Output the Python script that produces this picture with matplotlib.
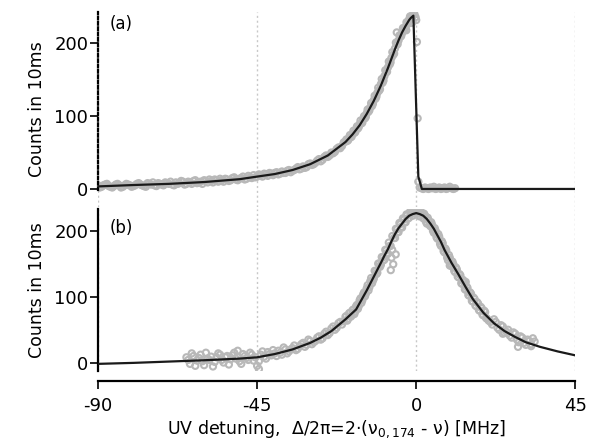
import matplotlib
matplotlib.use("Agg")
import matplotlib.pyplot as plt

plt.rcParams["font.family"] = ["DejaVu Sans"]

# Panel (a): measured counts (two interleaved scans)
top_x = [-90, -89, -88, -87, -86, -85, -84, -83, -82, -81,
         -80, -79, -78, -77, -76, -75, -74, -73, -72, -71,
         -70, -69, -68, -67, -66, -65, -64, -63, -62, -61,
         -60, -59, -58, -57, -56, -55, -54, -53, -52, -51,
         -50, -49, -48, -47, -46, -45, -44, -43, -42, -41,
         -40, -39, -38, -37, -36, -35, -34, -33, -32, -31,
         -30, -29, -28, -27, -26, -25, -24, -23, -22, -21,
         -20, -19.5, -19, -18.5, -18, -17.5, -17, -16.5, -16, -15.5,
         -15, -14.5, -14, -13.5, -13, -12.5, -12, -11.5, -11, -10.5,
         -10, -9.5, -9, -8.5, -8, -7.5, -7, -6.5, -6, -5.5,
         -5, -4.5, -4, -3.5, -3, -2.5, -2, -1.5, -1, -0.5,
         -1.2, -2.8, -0.2, 0, 0.2, 0.4, 0.6, 1, 1.5, 2,
         2.5, 3, 3.5, 4, 4.5, 5, 5.5, 6, 6.5, 7,
         7.5, 8, 8.5, 9, 9.5, 10, 10.5, 11]
top_y = [5, 3, 6, 4, 2, 6, 5, 3, 7, 5,
         4, 7, 6, 4, 8, 6, 5, 8, 6, 9,
         7, 6, 9, 8, 10, 7, 9, 11, 8, 10,
         12, 9, 11, 13, 10, 12, 14, 11, 15, 13,
         14, 17, 14, 16, 19, 17, 19, 21, 18, 21,
         22, 20, 24, 22, 26, 25, 28, 27, 31, 30,
         35, 34, 39, 38, 44, 44, 50, 51, 57, 59,
         65, 66, 70, 71, 76, 77, 82, 83, 89, 90,
         96, 97, 104, 106, 112, 114, 122, 124, 132, 135,
         144, 146, 155, 160, 167, 171, 180, 184, 193, 198,
         204, 209, 214, 220, 223, 229, 233, 236, 238, 240,
         228, 218, 236, 232, 202, 97, 10, 2, 1, 0,
         2, 1, 0, 2, 1, 3, 0, 1, 2, 0,
         1, 2, 0, 1, 3, 1, 0, 1]

top_x2 = [-89.5, -88.5, -87.5, -86.5, -85.5, -84.5, -83.5, -82.5, -81.5, -80.5,
          -79.5, -78.5, -77.5, -76.5, -75.5, -74.5, -73.5, -72.5, -71.5, -70.5,
          -69.5, -68.5, -67.5, -66.5, -65.5, -64.5, -63.5, -62.5, -61.5, -60.5,
          -59.5, -58.5, -57.5, -56.5, -55.5, -54.5, -53.5, -52.5, -51.5, -50.5,
          -49.5, -48.5, -47.5, -46.5, -45.5, -44.5, -43.5, -42.5, -41.5, -40.5,
          -39.5, -38.5, -37.5, -36.5, -35.5, -34.5, -33.5, -32.5, -31.5, -30.5,
          -29.5, -28.5, -27.5, -26.5, -25.5, -24.5, -23.5, -22.5, -21.5, -20.5,
          -19.75, -19.25, -18.75, -18.25, -17.75, -17.25, -16.75, -16.25, -15.75, -15.25,
          -14.75, -14.25, -13.75, -13.25, -12.75, -12.25, -11.75, -11.25, -10.75, -10.25,
          -9.75, -9.25, -8.75, -8.25, -7.75, -7.25, -6.75, -6.25, -5.75, -5.25,
          -4.75, -4.25, -3.75, -3.25, -2.75, -2.25, -1.75, -1.25, -0.75, -5.5]
top_y2 = [2, 5, 7, 3, 4, 7, 2, 5, 6, 3,
          5, 8, 5, 3, 7, 9, 4, 7, 5, 8,
          10, 5, 7, 11, 6, 10, 7, 12, 9, 7,
          11, 13, 9, 12, 14, 10, 13, 12, 16, 12,
          15, 13, 18, 15, 16, 20, 17, 20, 22, 19,
          23, 21, 22, 25, 23, 26, 30, 28, 29, 34,
          33, 36, 41, 40, 46, 46, 49, 55, 56, 64,
          68, 67, 74, 72, 80, 78, 86, 85, 94, 91,
          100, 99, 109, 108, 118, 117, 128, 127, 139, 137,
          151, 149, 163, 161, 175, 174, 188, 186, 201, 199,
          211, 210, 221, 219, 229, 227, 237, 234, 241, 215]

# Panel (a): fit curve
top_fit_x = [-90, -80, -70, -60, -50, -45, -40, -35, -30, -25,
             -20, -18, -16, -14, -12, -10, -9, -8, -7, -6,
             -5, -4, -3, -2, -1.5, -0.8, 0.6, 1.6, 45]
top_fit_y = [3.5, 5.4, 7.0, 9.5, 13.4, 17, 20.5, 26, 34, 46,
             64.5, 75, 87.5, 103, 121, 142, 154, 166, 179, 192,
             204, 215, 224, 232, 235, 238, 17, 0, 0]

# Panel (b): measured counts (two interleaved scans)
bot_x = [-65, -64, -63, -62, -61, -60, -59, -58, -57, -56,
         -55, -54, -53, -52, -51, -50, -49, -48, -47, -46,
         -45, -44, -43, -42, -41, -40, -39, -38, -37, -36,
         -35, -34, -33, -32, -31, -30, -29, -28, -27, -26,
         -25, -24, -23, -22, -21,
         -20, -19.5, -19, -18.5, -18, -17.5, -17, -16.5, -16, -15.5,
         -15, -14.5, -14, -13.5, -13, -12.5, -12, -11.5, -11, -10.5,
         -10, -9.5, -9, -8.5, -8, -7.5, -7, -6.5, -6, -5.5,
         -5, -4.5, -4, -3.5, -3, -2.5, -2, -1.5, -1, -0.5,
         0, 0.5, 1, 1.5, 2, 2.5, 3, 3.5, 4, 4.5,
         5, 5.5, 6, 6.5, 7, 7.5, 8, 8.5, 9, 9.5,
         10, 10.5, 11, 11.5, 12, 12.5, 13, 13.5, 14, 14.5,
         15, 15.5, 16, 16.5, 17, 17.5, 18, 18.5, 19, 19.5,
         20, 21, 22, 23, 24, 25, 26, 27, 28, 29,
         30, 31, 32, 33,
         -7.2, -6.8, -5.8, 9.5, 14, 28.8, 24.5, 32.5, -44.5, -50.5]
bot_y = [8, -2, 10, 3, 12, -4, 6, 9, 1, 14,
         4, 8, -3, 11, 6, 2, 13, 7, 15, 3,
         -5, 12, 9, 16, 11, 14, 18, 12, 20, 17,
         22, 19, 25, 30, 27, 33, 31, 38, 35, 44,
         42, 52, 50, 60, 58,
         70, 64, 75, 70, 80, 74, 86, 82, 95, 91,
         104, 101, 113, 110, 124, 121, 128, 139, 137, 151,
         149, 160, 157, 171, 166, 178, 160, 150, 190, 203,
         199, 211, 206, 218, 214, 225, 221, 229, 224, 231,
         226, 232, 223, 228, 220, 224, 212, 217, 208, 210,
         198, 201, 189, 192, 178, 182, 168, 171, 156, 160,
         147, 150, 138, 142, 130, 133, 120, 123, 111, 114,
         102, 105, 93, 97, 86, 90, 79, 83, 72, 77,
         67, 62, 66, 53, 57, 45, 50, 38, 44, 31,
         38, 27, 33, 37,
         141, 172, 165, 148, 123, 24, 44, 25, -10, 18]

bot_x2 = [-64.5, -63.5, -62.5, -61.5, -60.5, -59.5, -58.5, -57.5, -56.5, -55.5,
          -54.5, -53.5, -52.5, -51.5, -50.5, -49.5, -48.5, -47.5, -46.5, -45.5,
          -44.5, -43.5, -42.5, -41.5, -40.5, -39.5, -38.5, -37.5, -36.5, -35.5,
          -34.5, -33.5, -32.5, -31.5, -30.5, -29.5, -28.5, -27.5, -26.5, -25.5,
          -24.5, -23.5, -22.5, -21.5, -20.5,
          -19.75, -19.25, -18.75, -18.25, -17.75, -17.25, -16.75, -16.25, -15.75, -15.25,
          -14.75, -14.25, -13.75, -13.25, -12.75, -12.25, -11.75, -11.25, -10.75, -10.25,
          -9.75, -9.25, -8.75, -8.25, -7.75, -7.25, -6.75, -6.25, -5.75, -5.25,
          -4.75, -4.25, -3.75, -3.25, -2.75, -2.25, -1.75, -1.25, -0.75, -0.25,
          0.25, 0.75, 1.25, 1.75, 2.25, 2.75, 3.25, 3.75, 4.25, 4.75,
          5.25, 5.75, 6.25, 6.75, 7.25, 7.75, 8.25, 8.75, 9.25, 9.75,
          10.25, 10.75, 11.25, 11.75, 12.25, 12.75, 13.25, 13.75, 14.25, 14.75,
          15.25, 15.75, 16.25, 16.75, 17.25, 17.75, 18.25, 18.75, 19.25, 19.75,
          20.5, 21.5, 22.5, 23.5, 24.5, 25.5, 26.5, 27.5, 28.5, 29.5,
          30.5, 31.5, 32.5, 33.5]
bot_y2 = [4, 14, -5, 7, 2, 15, 4, -6, 8, 12,
          0, 10, 5, 15, 9, -2, 10, 4, 12, 8,
          2, 17, 6, 13, 19, 10, 15, 23, 14, 20,
          26, 21, 28, 24, 35, 28, 33, 40, 37, 47,
          45, 55, 53, 62, 63,
          71, 67, 76, 72, 81, 78, 88, 86, 98, 95,
          107, 105, 118, 115, 129, 125, 140, 135, 151, 146,
          161, 156, 172, 167, 183, 178, 193, 190, 204, 199,
          213, 207, 220, 214, 226, 220, 230, 228, 233, 229,
          234, 229, 231, 226, 227, 215, 221, 210, 214, 201,
          205, 191, 196, 181, 185, 170, 174, 160, 164, 150,
          154, 140, 145, 131, 135, 121, 126, 112, 116, 103,
          107, 94, 99, 87, 92, 80, 85, 73, 79, 68,
          64, 58, 62, 50, 55, 47, 41, 46, 35, 40,
          30, 35, 28, 32]

# Panel (b): fit curve
bot_fit_x = [-90, -80, -70, -60, -50, -45, -40, -35, -30, -27,
             -24, -20, -17, -14, -12, -10, -9, -8, -7, -6,
             -5, -4, -3, -2, -1, 0, 1, 2, 3, 4,
             5, 6, 7, 8, 9, 10, 12, 14, 16, 19,
             22, 25, 28, 31, 35, 40, 45]
bot_fit_y = [-2, -0.5, 1.5, 3.5, 6, 8, 13, 20, 30, 38,
             48, 66, 81, 110, 131, 152, 163, 173, 185, 196,
             205, 212, 219, 224, 226.5, 228, 226.5, 224, 219, 212,
             204, 194, 184, 172, 162, 152, 134, 115, 97, 76,
             60, 48, 39, 31, 24, 17, 11]

x_ticks = [-90, -45, 0, 45]
y_ticks = [0, 100, 200]

fig = plt.figure(figsize=(5.98, 4.46), dpi=100)
ax1 = fig.add_axes([0.164, 0.536, 0.798, 0.437])
ax2 = fig.add_axes([0.164, 0.168, 0.798, 0.363])

grid_kw = dict(color="#c8c8c8", linestyle=(0, (1.5, 2)), linewidth=1, zorder=0)
dot_kw = dict(s=20, facecolors="none", edgecolors="#b8b8b8", linewidths=1.5, zorder=2)
fit_kw = dict(color="#1a1a1a", linewidth=1.6, zorder=3)

for ax in (ax1, ax2):
    for gx in x_ticks:
        ax.axvline(gx, **grid_kw)
    ax.set_xlim(-90, 45)
    ax.spines["top"].set_visible(False)
    ax.spines["right"].set_visible(False)
    ax.set_yticks(y_ticks)
    ax.tick_params(axis="y", length=6, width=1.2, pad=1, labelsize=13)

# top panel
ax1.scatter(top_x + top_x2, top_y + top_y2, **dot_kw)
ax1.plot(top_fit_x, top_fit_y, **fit_kw)
ax1.set_ylim(-24.7, 243)
ax1.spines["bottom"].set_visible(False)
ax1.spines["left"].set_linestyle((0, (1.2, 1.2)))
ax1.spines["left"].set_linewidth(1.6)
ax1.spines["left"].set_bounds(-2, 243)
ax1.set_xticks([])
ax1.set_ylabel("Counts in 10ms", fontsize=12.5, labelpad=6)
ax1.text(0.025, 0.985, "(a)", transform=ax1.transAxes, ha="left", va="top", fontsize=12)

# bottom panel
ax2.scatter(bot_x + bot_x2, bot_y + bot_y2, **dot_kw)
ax2.plot(bot_fit_x, bot_fit_y, **fit_kw)
ax2.set_ylim(-13, 234)
ax2.spines["left"].set_linewidth(1.6)
ax2.spines["bottom"].set_linewidth(1.6)
ax2.spines["bottom"].set_position(("outward", 7))
ax2.spines["bottom"].set_bounds(-90, 45)
ax2.set_xticks(x_ticks)
ax2.set_xticklabels(["-90", "-45", "0", "45"])
ax2.tick_params(axis="x", length=6, width=1.2, pad=6, labelsize=13)
ax2.set_ylabel("Counts in 10ms", fontsize=12.5, labelpad=6)
ax2.set_xlabel("UV detuning,  Δ/2π=2·(ν$_{\\mathregular{0,174}}$ - ν) [MHz]", fontsize=12.5, labelpad=2)
ax2.text(0.025, 0.94, "(b)", transform=ax2.transAxes, ha="left", va="top", fontsize=12)

fig.savefig("out.png", dpi=100)
